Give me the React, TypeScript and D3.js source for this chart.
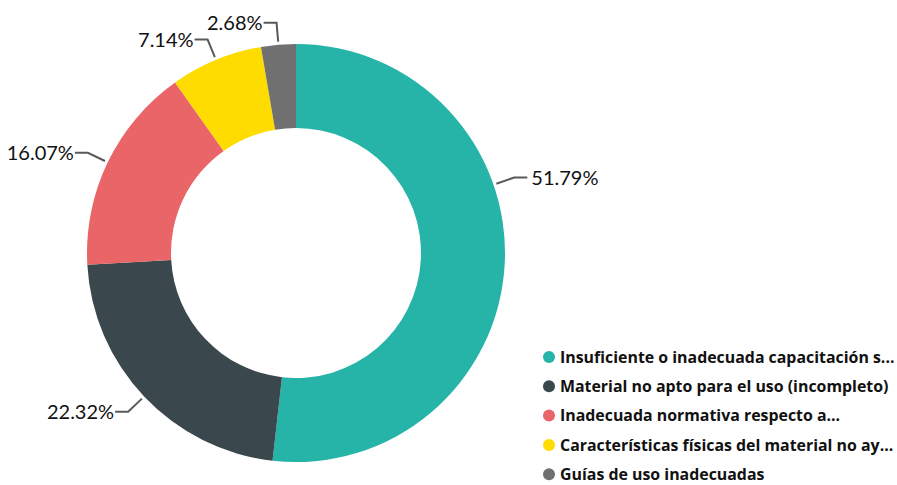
import React from "react";
import * as d3 from "d3";

const categories = [
  "Insuficiente o inadecuada capacitación s...",
  "Material no apto para el uso (incompleto)",
  "Inadecuada normativa respecto a...",
  "Características físicas del material no ay...",
  "Guías de uso inadecuadas",
];
const values = [51.79, 22.32, 16.07, 7.14, 2.68];
const labels = ["51.79%", "22.32%", "16.07%", "7.14%", "2.68%"];
const colors = ["#26B3A8", "#3A474C", "#EA6567", "#FFDC00", "#707070"];

const W = 897;
const H = 485;
const cx = 296;
const cy = 253;
const outerR = 209;
const innerR = 125;

export default function App() {
  const pie = d3.pie<number>().sort(null).value((d) => d)(values);
  const arc = d3.arc<d3.PieArcDatum<number>>().innerRadius(innerR).outerRadius(outerR);
  const fontFamily = "Lato, 'Open Sans', sans-serif";
  return (
    <svg width={W} height={H} style={{ position: "absolute", left: 0, top: 0 }}>
      <rect width={W} height={H} fill="#fff" />
      <g transform={`translate(${cx},${cy})`}>
        {pie.map((p, i) => (
          <path key={i} d={arc(p) || ""} fill={colors[i]} />
        ))}
        {pie.map((p, i) => {
          let a = (p.startAngle + p.endAngle) / 2;
          if (i === 0) a -= (22.3 * Math.PI) / 180;
          const r1 = outerR + 3;
          const r2 = outerR + 22;
          const x1 = Math.sin(a) * r1;
          const y1 = -Math.cos(a) * r1;
          const x2 = Math.sin(a) * r2;
          const y2 = -Math.cos(a) * r2;
          const right = Math.sin(a) > 0;
          const x3 = x2 + (right ? 13 : -13);
          const tx = x3 + (right ? 4 : -1);
          return (
            <g key={"l" + i}>
              <polyline
                points={`${x1},${y1} ${x2},${y2} ${x3},${y2}`}
                fill="none"
                stroke="#595959"
                strokeWidth={2}
              />
              <text
                x={tx}
                y={y2}
                dy="0.35em"
                textAnchor={right ? "start" : "end"}
                fontFamily={fontFamily}
                fontSize={20}
                fill="#111"
              >
                {labels[i]}
              </text>
            </g>
          );
        })}
      </g>
      <g transform="translate(549,357)">
        {categories.map((c, i) => (
          <g key={c} transform={`translate(0,${i * 29.3})`}>
            <circle r={6} fill={colors[i]} />
            <text
              x={11}
              dy="0.36em"
              fontFamily="'Open Sans', Lato, sans-serif"
              fontWeight="bold"
              fontSize={15.9}
              fill="#111"
            >
              {c}
            </text>
          </g>
        ))}
      </g>
    </svg>
  );
}
